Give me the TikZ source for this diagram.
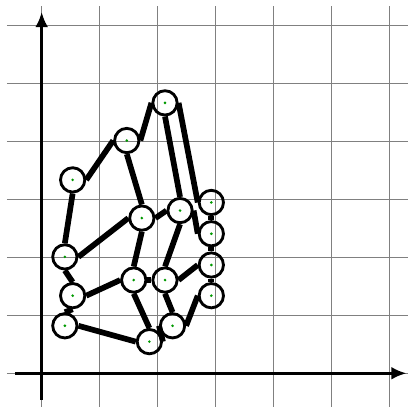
\documentclass[tikz,border=0pt]{standalone}
\usetikzlibrary{arrows.meta}
\begin{document}
\begin{tikzpicture}[
  vtx/.style={circle,draw,line width=1.4pt,minimum size=0.42cm,inner sep=0pt},
  edge/.style={line width=2.8pt},
  axis/.style={line width=1.3pt,-{Latex[length=2.6mm,width=2.2mm]}},
  dot/.style={fill=green!60!black}
]
\useasboundingbox (-0.72,-0.582) rectangle (6.327,6.447);
\draw[gray,line width=0.5pt] (-0.6,-0.6) grid (6.35,6.35);
\draw[axis] (-0.46,0) -- (6.3,0);
\draw[axis] (0,-0.46) -- (0,6.24);
\foreach \n/\x/\y in {1/2.13/4.67, 2/1.47/4.02, 3/0.535/3.34, 4/2.93/2.95, 5/2.39/2.81, 6/1.73/2.68, 7/2.93/2.41, 8/0.40/2.01, 9/2.93/1.87, 10/1.59/1.61, 11/2.13/1.61, 12/0.535/1.34, 13/2.93/1.34, 14/0.40/0.82, 15/2.26/0.82, 16/1.86/0.546}{
  \node[vtx] (n\n) at (\x,\y) {};
  \fill[dot] (\x,\y) circle (0.025);
}
\draw[edge] (n3.east) -- (n2.west);
\draw[edge] (n2.east) -- (n1.west);
\draw[edge] (n1.east) -- (n4.west);
\draw[edge] (n1.south) -- (n5.north);
\draw[edge] (n2.south) -- (n6.north);
\draw[edge] (n3.south) -- (n8.north);
\draw[edge] (n8.east) -- (n6.west);
\draw[edge] (n6.east) -- (n5.west);
\draw[edge] (n5.east) -- (n7.west);
\draw[edge] (n4.south) -- (n7.north);
\draw[edge] (n7.south) -- (n9.north);
\draw[edge] (n9.south) -- (n13.north);
\draw[edge] (n6.south) -- (n10.north);
\draw[edge] (n5.south) -- (n11.north);
\draw[edge] (n10.east) -- (n11.west);
\draw[edge] (n11.east) -- (n9.west);
\draw[edge] (n8.south) -- (n12.north);
\draw[edge] (n12.east) -- (n10.west);
\draw[edge] (n12.south) -- (n14.north);
\draw[edge] (n14.east) -- (n16.west);
\draw[edge] (n10.south) -- (n16.north);
\draw[edge] (n11.south) -- (n15.north);
\draw[edge] (n16.east) -- (n15.west);
\draw[edge] (n15.east) -- (n13.west);
\end{tikzpicture}
\end{document}
